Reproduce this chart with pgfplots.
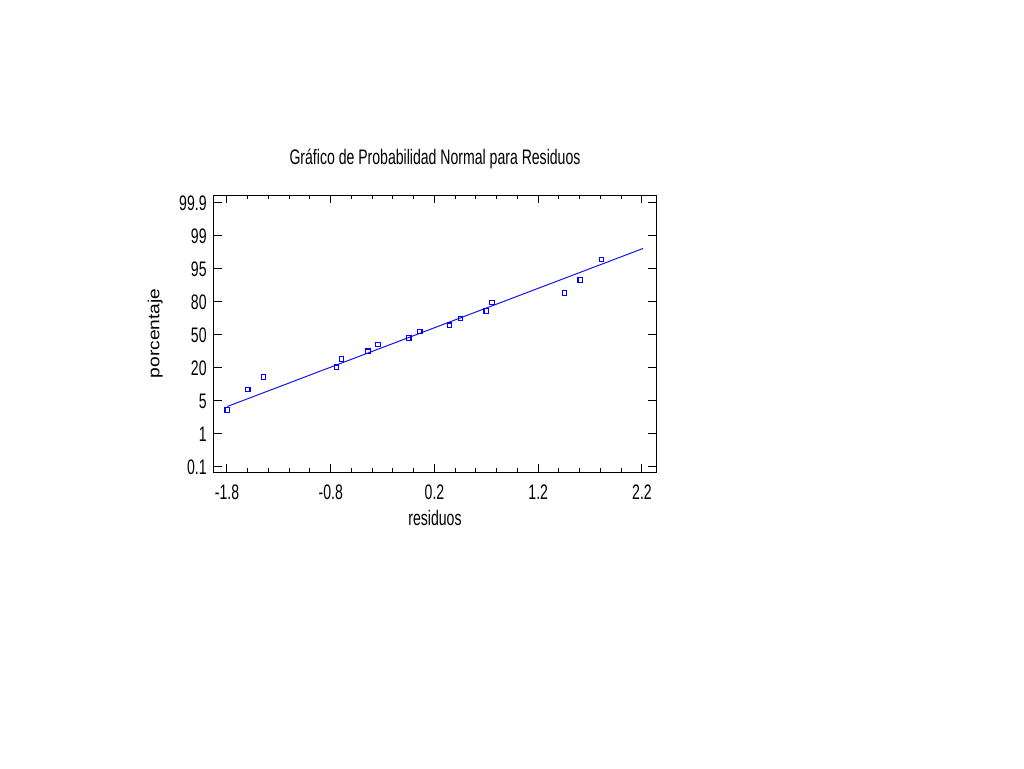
\documentclass[border=0pt]{standalone}
\usepackage{fontspec}
\setmainfont{Liberation Sans}[FakeStretch=0.67]
\newfontfamily\yfont{Liberation Sans}[FakeStretch=1.2]
\usepackage{pgfplots}
\pgfplotsset{compat=1.18}
\definecolor{ptblue}{RGB}{20,20,240}
\definecolor{mkblue}{RGB}{0,0,255}
\begin{document}
\begin{tikzpicture}
\useasboundingbox (-107pt,-148pt) rectangle (405pt,236pt);
\begin{axis}[
  scale only axis,
  width=221pt, height=138.5pt,
  xmin=-1.925, xmax=2.335,
  ymin=-0.152, ymax=8.24,
  font=\fontsize{10.5pt}{12pt}\selectfont,
  /pgf/number format/assume math mode=true,
  axis line style={line width=0.5pt, black},
  xtick={-1.8,-0.8,0.2,1.2,2.2},
  xticklabels={{-1.8},{-0.8},{0.2},{1.2},{2.2}},
  minor x tick num=4,
  ytick={0,1,2,3,4,5,6,7,8},
  yticklabels={0.1,1,5,20,50,80,95,99,99.9},
  tick align=inside,
  tick pos=both,
  major tick length=4pt,
  minor tick length=2pt,
  every tick/.style={black, line width=0.5pt},
  xticklabel style={inner sep=0pt, yshift=-6pt},
  yticklabel style={inner sep=0pt, xshift=-3.5pt},
  title={Gráfico de Probabilidad Normal para Residuos},
  title style={at={([yshift=9.5pt]axis description cs:0.5,1)}, anchor=base, inner sep=0pt},
  xlabel={residuos},
  xlabel style={at={([yshift=-26.5pt]axis description cs:0.5,0)}, anchor=base, inner sep=0pt},
  ylabel={\fontsize{8pt}{9pt}\yfont porcentaje},
  ylabel style={at={([xshift=-27.3pt]axis description cs:0,0.5)}, anchor=base, inner sep=0pt},
]
\addplot[only marks, mark=square, mark size=1.1pt, mkblue, mark options={line width=0.6pt, draw=mkblue}] coordinates {
(-1.797,1.727)
(-1.600,2.342)
(-1.446,2.727)
(-0.743,3.021)
(-0.695,3.273)
(-0.441,3.505)
(-0.345,3.707)
(-0.047,3.909)
(0.058,4.101)
(0.346,4.293)
(0.449,4.495)
(0.699,4.727)
(0.755,4.980)
(1.455,5.273)
(1.605,5.667)
(1.810,6.283)
};
\addplot[ptblue, line width=0.5pt, no marks] coordinates {(-1.797,1.833) (2.21,6.62)};
\end{axis}
\end{tikzpicture}
\end{document}
